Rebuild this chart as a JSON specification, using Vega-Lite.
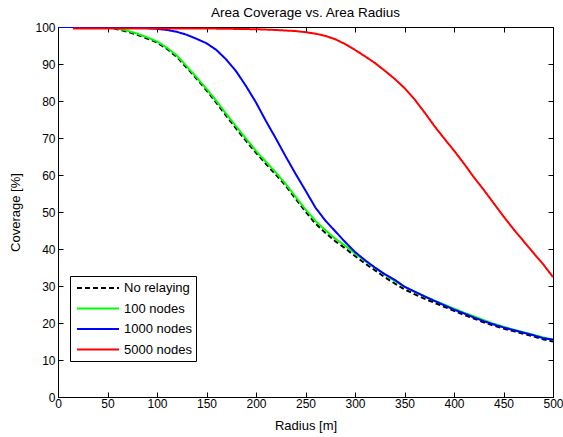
{
  "$schema": "https://vega.github.io/schema/vega-lite/v6.json",
  "width": 495,
  "height": 370,
  "autosize": {"type": "none"},
  "padding": {"left": 58, "top": 27, "right": 10, "bottom": 40},
  "background": "white",
  "title": {"text": "Area Coverage vs. Area Radius", "fontSize": 13.5, "fontWeight": "normal", "font": "Liberation Sans", "color": "black", "offset": 2},
  "config": {
    "font": "Liberation Sans",
    "view": {"stroke": "black", "strokeWidth": 1},
    "axis": {"grid": false, "domainColor": "black", "tickColor": "black", "labelColor": "black", "titleColor": "black", "labelFontSize": 12, "titleFontSize": 13, "titleFontWeight": "normal", "tickSize": -5, "labelPadding": 8, "labelFlush": false, "labelOverlap": false, "labelFont": "Liberation Sans", "titleFont": "Liberation Sans"}
  },
  "data": {"values": [
    {"s":"No relaying","r":0,"c":100},{"s":"No relaying","r":10,"c":100},{"s":"No relaying","r":20,"c":100},{"s":"No relaying","r":30,"c":100},{"s":"No relaying","r":40,"c":100},{"s":"No relaying","r":50,"c":100},{"s":"No relaying","r":55,"c":99.8},{"s":"No relaying","r":60,"c":99.4},{"s":"No relaying","r":70,"c":98.7},{"s":"No relaying","r":80,"c":97.9},{"s":"No relaying","r":90,"c":96.9},{"s":"No relaying","r":100,"c":95.8},{"s":"No relaying","r":110,"c":94.1},{"s":"No relaying","r":120,"c":91.9},{"s":"No relaying","r":130,"c":89.0},{"s":"No relaying","r":140,"c":86.0},{"s":"No relaying","r":150,"c":82.9},{"s":"No relaying","r":160,"c":79.5},{"s":"No relaying","r":170,"c":76.0},{"s":"No relaying","r":180,"c":72.5},{"s":"No relaying","r":190,"c":69.2},{"s":"No relaying","r":200,"c":66.0},{"s":"No relaying","r":210,"c":63.0},{"s":"No relaying","r":220,"c":60.1},{"s":"No relaying","r":230,"c":57.1},{"s":"No relaying","r":240,"c":53.6},{"s":"No relaying","r":250,"c":50.1},{"s":"No relaying","r":260,"c":46.9},{"s":"No relaying","r":270,"c":44.4},{"s":"No relaying","r":280,"c":42.1},{"s":"No relaying","r":290,"c":40.2},{"s":"No relaying","r":300,"c":38.1},{"s":"No relaying","r":310,"c":36.1},{"s":"No relaying","r":320,"c":34.3},{"s":"No relaying","r":330,"c":32.4},{"s":"No relaying","r":340,"c":30.7},{"s":"No relaying","r":350,"c":29.1},{"s":"No relaying","r":360,"c":27.8},{"s":"No relaying","r":370,"c":26.6},{"s":"No relaying","r":380,"c":25.5},{"s":"No relaying","r":390,"c":24.4},{"s":"No relaying","r":400,"c":23.3},{"s":"No relaying","r":410,"c":22.2},{"s":"No relaying","r":420,"c":21.2},{"s":"No relaying","r":430,"c":20.2},{"s":"No relaying","r":440,"c":19.3},{"s":"No relaying","r":450,"c":18.5},{"s":"No relaying","r":460,"c":17.8},{"s":"No relaying","r":470,"c":17.1},{"s":"No relaying","r":480,"c":16.4},{"s":"No relaying","r":490,"c":15.6},{"s":"No relaying","r":500,"c":15.0},
    {"s":"100 nodes","r":0,"c":100},{"s":"100 nodes","r":10,"c":100},{"s":"100 nodes","r":20,"c":100},{"s":"100 nodes","r":30,"c":100},{"s":"100 nodes","r":40,"c":100},{"s":"100 nodes","r":50,"c":100},{"s":"100 nodes","r":55,"c":99.9},{"s":"100 nodes","r":60,"c":99.6},{"s":"100 nodes","r":70,"c":99.0},{"s":"100 nodes","r":80,"c":98.2},{"s":"100 nodes","r":90,"c":97.2},{"s":"100 nodes","r":100,"c":96.1},{"s":"100 nodes","r":110,"c":94.4},{"s":"100 nodes","r":120,"c":92.3},{"s":"100 nodes","r":130,"c":89.4},{"s":"100 nodes","r":140,"c":86.4},{"s":"100 nodes","r":150,"c":83.3},{"s":"100 nodes","r":160,"c":80.0},{"s":"100 nodes","r":170,"c":76.5},{"s":"100 nodes","r":180,"c":73.1},{"s":"100 nodes","r":190,"c":69.8},{"s":"100 nodes","r":200,"c":66.5},{"s":"100 nodes","r":210,"c":63.6},{"s":"100 nodes","r":220,"c":60.7},{"s":"100 nodes","r":230,"c":57.6},{"s":"100 nodes","r":240,"c":54.1},{"s":"100 nodes","r":250,"c":50.7},{"s":"100 nodes","r":260,"c":47.6},{"s":"100 nodes","r":270,"c":45.1},{"s":"100 nodes","r":280,"c":42.8},{"s":"100 nodes","r":290,"c":40.9},{"s":"100 nodes","r":300,"c":38.8},{"s":"100 nodes","r":310,"c":36.8},{"s":"100 nodes","r":320,"c":35.0},{"s":"100 nodes","r":330,"c":33.1},{"s":"100 nodes","r":340,"c":31.4},{"s":"100 nodes","r":350,"c":29.8},{"s":"100 nodes","r":360,"c":28.5},{"s":"100 nodes","r":370,"c":27.3},{"s":"100 nodes","r":380,"c":26.1},{"s":"100 nodes","r":390,"c":25.0},{"s":"100 nodes","r":400,"c":23.9},{"s":"100 nodes","r":410,"c":22.8},{"s":"100 nodes","r":420,"c":21.8},{"s":"100 nodes","r":430,"c":20.8},{"s":"100 nodes","r":440,"c":19.8},{"s":"100 nodes","r":450,"c":19.0},{"s":"100 nodes","r":460,"c":18.2},{"s":"100 nodes","r":470,"c":17.5},{"s":"100 nodes","r":480,"c":16.8},{"s":"100 nodes","r":490,"c":16.1},{"s":"100 nodes","r":500,"c":15.5},
    {"s":"1000 nodes","r":0,"c":100},{"s":"1000 nodes","r":10,"c":100},{"s":"1000 nodes","r":20,"c":100},{"s":"1000 nodes","r":30,"c":100},{"s":"1000 nodes","r":40,"c":100},{"s":"1000 nodes","r":50,"c":100},{"s":"1000 nodes","r":60,"c":100},{"s":"1000 nodes","r":70,"c":100},{"s":"1000 nodes","r":80,"c":100},{"s":"1000 nodes","r":90,"c":99.7},{"s":"1000 nodes","r":100,"c":99.5},{"s":"1000 nodes","r":110,"c":99.2},{"s":"1000 nodes","r":120,"c":98.7},{"s":"1000 nodes","r":130,"c":97.9},{"s":"1000 nodes","r":140,"c":96.8},{"s":"1000 nodes","r":150,"c":95.6},{"s":"1000 nodes","r":160,"c":93.8},{"s":"1000 nodes","r":170,"c":91.2},{"s":"1000 nodes","r":180,"c":88.0},{"s":"1000 nodes","r":190,"c":84.0},{"s":"1000 nodes","r":200,"c":79.6},{"s":"1000 nodes","r":210,"c":74.6},{"s":"1000 nodes","r":220,"c":69.9},{"s":"1000 nodes","r":230,"c":65.0},{"s":"1000 nodes","r":240,"c":60.3},{"s":"1000 nodes","r":250,"c":55.8},{"s":"1000 nodes","r":260,"c":51.2},{"s":"1000 nodes","r":270,"c":47.7},{"s":"1000 nodes","r":280,"c":44.8},{"s":"1000 nodes","r":290,"c":41.9},{"s":"1000 nodes","r":300,"c":39.2},{"s":"1000 nodes","r":310,"c":37.0},{"s":"1000 nodes","r":320,"c":35.0},{"s":"1000 nodes","r":330,"c":33.2},{"s":"1000 nodes","r":340,"c":31.7},{"s":"1000 nodes","r":350,"c":29.8},{"s":"1000 nodes","r":360,"c":28.5},{"s":"1000 nodes","r":370,"c":27.2},{"s":"1000 nodes","r":380,"c":26.0},{"s":"1000 nodes","r":390,"c":24.8},{"s":"1000 nodes","r":400,"c":23.6},{"s":"1000 nodes","r":410,"c":22.6},{"s":"1000 nodes","r":420,"c":21.5},{"s":"1000 nodes","r":430,"c":20.5},{"s":"1000 nodes","r":440,"c":19.6},{"s":"1000 nodes","r":450,"c":18.8},{"s":"1000 nodes","r":460,"c":18.1},{"s":"1000 nodes","r":470,"c":17.4},{"s":"1000 nodes","r":480,"c":16.7},{"s":"1000 nodes","r":490,"c":15.9},{"s":"1000 nodes","r":500,"c":15.5},
    {"s":"5000 nodes","r":15,"c":99.6},{"s":"5000 nodes","r":50,"c":99.6},{"s":"5000 nodes","r":100,"c":99.6},{"s":"5000 nodes","r":150,"c":99.6},{"s":"5000 nodes","r":200,"c":99.4},{"s":"5000 nodes","r":220,"c":99.2},{"s":"5000 nodes","r":240,"c":98.9},{"s":"5000 nodes","r":250,"c":98.6},{"s":"5000 nodes","r":260,"c":98.2},{"s":"5000 nodes","r":270,"c":97.6},{"s":"5000 nodes","r":280,"c":96.7},{"s":"5000 nodes","r":290,"c":95.4},{"s":"5000 nodes","r":300,"c":93.8},{"s":"5000 nodes","r":310,"c":92.1},{"s":"5000 nodes","r":320,"c":90.3},{"s":"5000 nodes","r":330,"c":88.2},{"s":"5000 nodes","r":340,"c":86.0},{"s":"5000 nodes","r":350,"c":83.5},{"s":"5000 nodes","r":360,"c":80.5},{"s":"5000 nodes","r":370,"c":77.0},{"s":"5000 nodes","r":380,"c":73.3},{"s":"5000 nodes","r":390,"c":69.9},{"s":"5000 nodes","r":400,"c":66.6},{"s":"5000 nodes","r":410,"c":63.1},{"s":"5000 nodes","r":420,"c":59.4},{"s":"5000 nodes","r":430,"c":56.0},{"s":"5000 nodes","r":440,"c":52.4},{"s":"5000 nodes","r":450,"c":48.8},{"s":"5000 nodes","r":460,"c":45.4},{"s":"5000 nodes","r":470,"c":42.2},{"s":"5000 nodes","r":480,"c":39.0},{"s":"5000 nodes","r":490,"c":35.9},{"s":"5000 nodes","r":500,"c":32.4}
  ]},
  "layer": [
    {
      "mark": {"type": "line", "strokeWidth": 2, "clip": true},
      "encoding": {
        "x": {"field": "r", "type": "quantitative", "scale": {"domain": [0, 500], "nice": false}, "axis": {"orient": "bottom", "values": [0,50,100,150,200,250,300,350,400,450,500], "title": "Radius [m]", "titlePadding": 10, "labelPadding": 6}},
        "y": {"field": "c", "type": "quantitative", "scale": {"domain": [0, 100], "nice": false}, "axis": {"orient": "left", "values": [0,10,20,30,40,50,60,70,80,90,100], "title": "Coverage [%]", "titlePadding": 12}},
        "color": {"field": "s", "type": "nominal", "scale": {"domain": ["No relaying","100 nodes","1000 nodes","5000 nodes"], "range": ["#000000","#00ff00","#0000ff","#ff0000"]},
          "legend": {"orient": "none", "legendX": 12, "legendY": 249, "title": null, "strokeColor": "black", "fillColor": "white", "padding": 4, "symbolType": "M-3,0H3", "symbolSize": 196, "symbolStrokeWidth": 2, "symbolOffset": 16, "labelFontSize": 13, "labelColor": "black", "labelOffset": 18, "rowPadding": 5.5, "cornerRadius": 0}},
        "strokeDash": {"field": "s", "type": "nominal", "scale": {"domain": ["No relaying","100 nodes","1000 nodes","5000 nodes"], "range": [[5,3],[1,0],[1,0],[1,0]]},
          "legend": {"orient": "none", "legendX": 12, "legendY": 249, "title": null, "strokeColor": "black", "fillColor": "white", "padding": 4, "symbolType": "M-3,0H3", "symbolSize": 196, "symbolStrokeWidth": 2, "symbolOffset": 16, "labelFontSize": 13, "labelColor": "black", "labelOffset": 18, "rowPadding": 5.5, "cornerRadius": 0}}
      }
    },
    {
      "mark": {"type": "line", "opacity": 0},
      "encoding": {
        "x": {"field": "r", "type": "quantitative", "scale": {"domain": [0, 500], "nice": false}, "axis": {"orient": "top", "values": [0,50,100,150,200,250,300,350,400,450,500], "labels": false, "title": null}},
        "y": {"field": "c", "type": "quantitative", "scale": {"domain": [0, 100], "nice": false}, "axis": {"orient": "right", "values": [0,10,20,30,40,50,60,70,80,90,100], "labels": false, "title": null}},
        "detail": {"field": "s"}
      }
    }
  ],
  "resolve": {"axis": {"x": "independent", "y": "independent"}}
}
